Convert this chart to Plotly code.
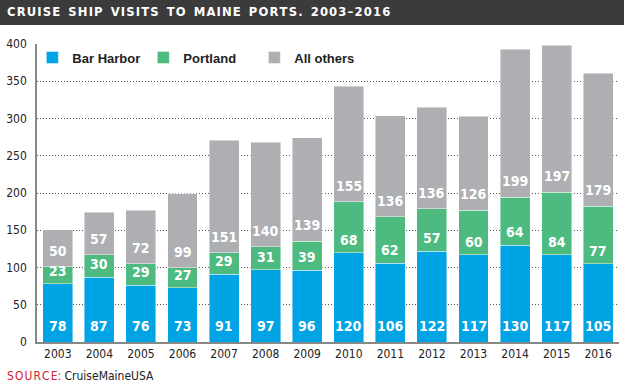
import plotly.graph_objects as go

years = ["2003", "2004", "2005", "2006", "2007", "2008", "2009",
         "2010", "2011", "2012", "2013", "2014", "2015", "2016"]
bar_harbor = [78, 87, 76, 73, 91, 97, 96, 120, 106, 122, 117, 130, 117, 105]
portland = [23, 30, 29, 27, 29, 31, 39, 68, 62, 57, 60, 64, 84, 77]
all_others = [50, 57, 72, 99, 151, 140, 139, 155, 136, 136, 126, 199, 197, 179]

series_names = ["Bar Harbor", "Portland", "All others"]
series_values = [bar_harbor, portland, all_others]
colors = ["#00a3e4", "#4dbb7f", "#adafb3"]
label_shift = [6, 3, 6]

COND = "DejaVu Sans Condensed, Liberation Sans, sans-serif"

W, H = 624, 390
ML, MR, MT, MB = 37, 5, 44, 48
PW, PH = W - ML - MR, H - MT - MB

fig = go.Figure()
for name, vals, col in zip(series_names, series_values, colors):
    fig.add_trace(go.Bar(
        x=years, y=vals, name=name,
        marker=dict(color=col, line=dict(color="rgba(255,255,255,0.55)", width=0.8)),
        hoverinfo="skip",
    ))

# value labels, placed just above each segment base
annotations = []
bases = [0] * len(years)
for vals, sh in zip(series_values, label_shift):
    for i, v in enumerate(vals):
        annotations.append(dict(
            x=i, y=bases[i], xref="x", yref="y", text=str(v),
            showarrow=False, yanchor="bottom", yshift=sh,
            font=dict(family=COND, size=14, color="#ffffff", weight="bold"),
        ))
        bases[i] += v

# title
title_text = "CRUISE SHIP VISITS TO MAINE PORTS. 2003–2016"
spaced = "\u200a".join(title_text).replace("\u200a \u200a", "  ")
annotations.append(dict(
    x=-ML / PW + 5 / PW, y=(PH + MT - 12.5) / PH, xref="paper", yref="paper",
    xanchor="left", yanchor="middle", showarrow=False,
    text=spaced,
    font=dict(family="DejaVu Sans", size=11.6, color="white", weight="bold"),
))
# source
annotations.append(dict(
    x=-ML / PW + 5 / PW, y=-(376 - MT - PH) / PH, xref="paper", yref="paper",
    xanchor="left", yanchor="middle", showarrow=False,
    text="<span style='color:#d7202e'>S\u200aO\u200aU\u200aR\u200aC\u200aE:</span> CruiseMaineUSA",
    font=dict(family=COND, size=12, color="#222222"),
))

fig.update_layout(
    width=W, height=H,
    margin=dict(l=ML, r=MR, t=MT, b=MB, pad=0),
    barmode="stack", bargap=0.28,
    plot_bgcolor="white", paper_bgcolor="white",
    showlegend=True,
    legend=dict(
        orientation="h", x=-0.008, y=1.005, xanchor="left", yanchor="top",
        bgcolor="rgba(0,0,0,0)", traceorder="normal",
        font=dict(family="Liberation Sans", size=13, color="#222222", weight="bold"),
        itemwidth=30, entrywidth=66,
    ),
    xaxis=dict(
        type="category",
        showgrid=False, showline=True, linecolor="#888888", linewidth=1.5,
        ticks="", tickfont=dict(family=COND, size=12, color="#222222"),
        range=[-0.5, 13.5], fixedrange=True,
    ),
    yaxis=dict(
        range=[0, 400], tickvals=[0, 50, 100, 150, 200, 250, 300, 350, 400],
        showgrid=True, gridcolor="#555555", griddash="1px,2px", gridwidth=1,
        showline=True, linecolor="#888888", linewidth=1.5, zeroline=False,
        ticks="", ticklabelstandoff=6, fixedrange=True,
        tickfont=dict(family=COND, size=12, color="#222222"),
    ),
    annotations=annotations,
    shapes=[dict(
        type="rect", xref="paper", yref="paper", layer="below",
        x0=-ML / PW, x1=(W - ML) / PW, y0=(PH + MT - 25) / PH, y1=(PH + MT) / PH,
        fillcolor="#3b3b3c", line=dict(width=0),
    )],
)

fig.write_html("out.html", config={"displayModeBar": False},
               post_script="document.body.style.margin='0';")
